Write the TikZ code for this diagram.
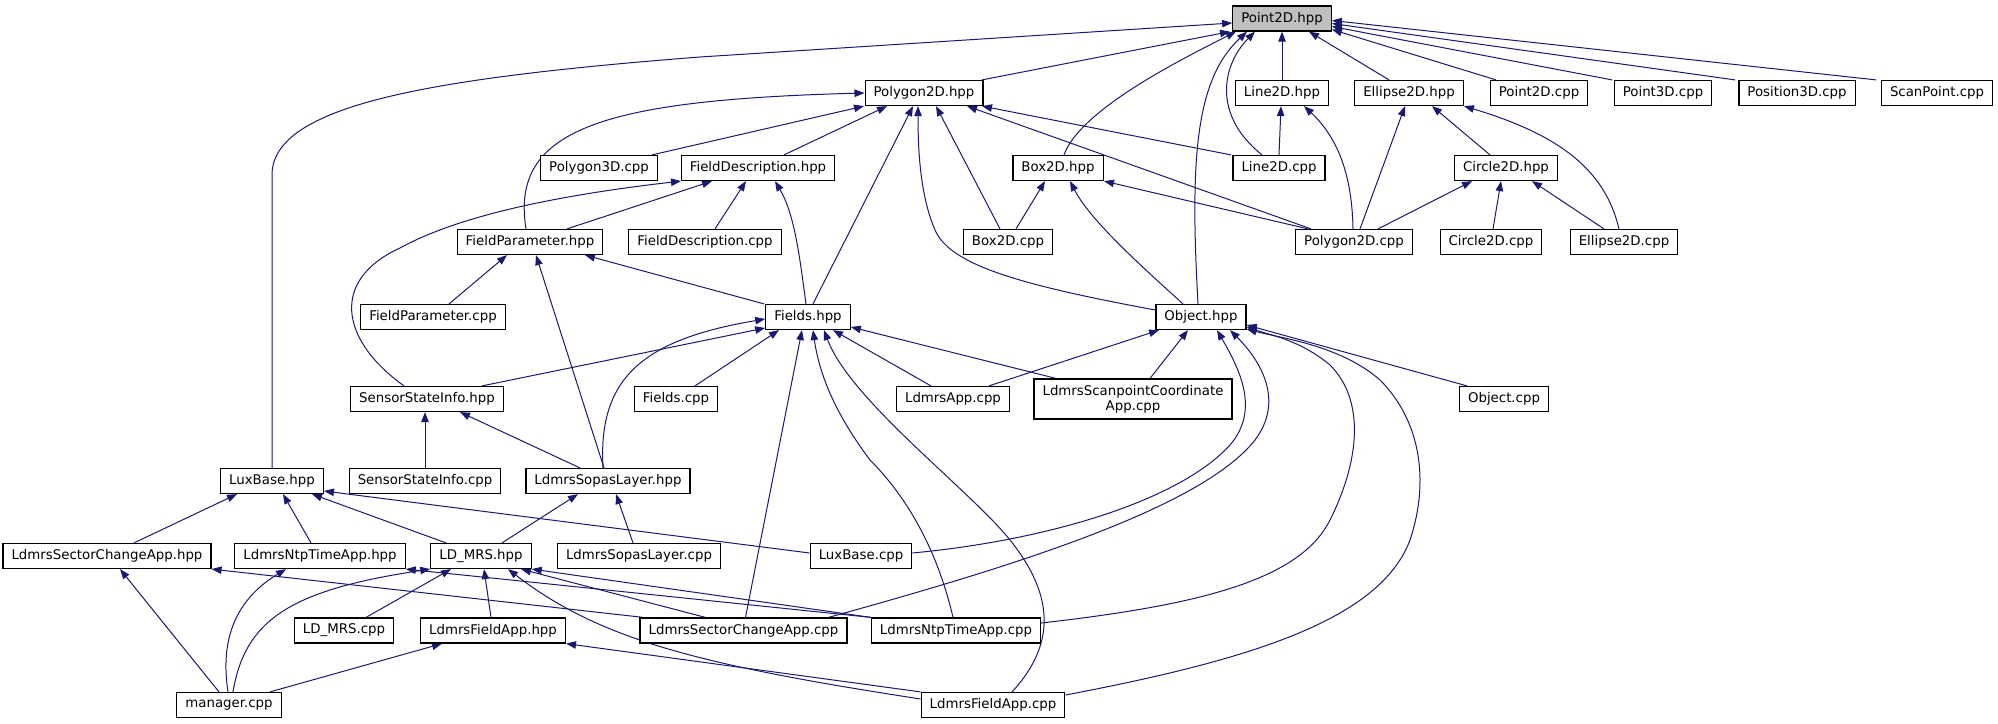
\documentclass[tikz,border=0pt]{standalone}
\usepackage{fontspec}
\setmainfont{DejaVu Sans}
\usetikzlibrary{arrows.meta}
\definecolor{mblue}{HTML}{191970}
\definecolor{rootgray}{HTML}{BFBFBF}
\newcommand{\pxu}{0.75pt}
\pgfdeclarelayer{bg}
\pgfsetlayers{bg,main}
\begin{document}
\begin{tikzpicture}[x=0.75pt,y=-0.75pt,
  box/.style={draw=black, line width=0.9pt, fill=white, inner xsep=6.4pt, inner ysep=0pt,
    minimum height=18.75pt, font=\fontsize{10}{11.5}\selectfont, align=center},
  root/.style={box, fill=rootgray},
  dep/.style={draw=mblue, line width=0.75pt, -{Triangle[length=7.5pt,width=5.6pt]}}]
\path[use as bounding box] (0,0) rectangle (1998,724);
% row 0
\node[root] (P2Dh) at (1282,18.5) {Point2D.hpp};
% row 1
\node[box] (Poly2Dh) at (924,93) {Polygon2D.hpp};
\node[box] (L2Dh) at (1282,93) {Line2D.hpp};
\node[box] (E2Dh) at (1409,93) {Ellipse2D.hpp};
\node[box] (P2Dc) at (1539,93) {Point2D.cpp};
\node[box] (P3Dc) at (1663,93) {Point3D.cpp};
\node[box] (Pos3Dc) at (1797,93) {Position3D.cpp};
\node[box] (SPc) at (1937,93) {ScanPoint.cpp};
% row 2
\node[box] (Poly3Dc) at (599,168) {Polygon3D.cpp};
\node[box] (FDh) at (758,168) {FieldDescription.hpp};
\node[box] (B2Dh) at (1058,168) {Box2D.hpp};
\node[box] (L2Dc) at (1279,168) {Line2D.cpp};
\node[box] (C2Dh) at (1506,168) {Circle2D.hpp};
% row 3
\node[box] (FPh) at (530,242) {FieldParameter.hpp};
\node[box] (FDc) at (705,242) {FieldDescription.cpp};
\node[box] (B2Dc) at (1008,242) {Box2D.cpp};
\node[box] (Poly2Dc) at (1354,242) {Polygon2D.cpp};
\node[box] (C2Dc) at (1491,242) {Circle2D.cpp};
\node[box] (E2Dc) at (1624,242) {Ellipse2D.cpp};
% row 4
\node[box] (FPc) at (433,317) {FieldParameter.cpp};
\node[box] (Fh) at (808,317) {Fields.hpp};
\node[box] (Oh) at (1201,317) {Object.hpp};
% row 5
\node[box] (SSIh) at (427,399) {SensorStateInfo.hpp};
\node[box] (Fc) at (676,399) {Fields.cpp};
\node[box] (LAc) at (953,399) {LdmrsApp.cpp};
\node[box, minimum height=30pt] (LSCc) at (1133,399) {LdmrsScanpointCoordinate\\App.cpp};
\node[box] (Oc) at (1504,399) {Object.cpp};
% row 6
\node[box] (LBh) at (272,481) {LuxBase.hpp};
\node[box] (SSIc) at (425,481) {SensorStateInfo.cpp};
\node[box] (LSLh) at (608,481) {LdmrsSopasLayer.hpp};
% row 7
\node[box] (LSCAh) at (107,556) {LdmrsSectorChangeApp.hpp};
\node[box] (LNTh) at (320,556) {LdmrsNtpTimeApp.hpp};
\node[box] (LDh) at (481,556) {LD\_MRS.hpp};
\node[box] (LSLc) at (639,556) {LdmrsSopasLayer.cpp};
\node[box] (LBc) at (861,556) {LuxBase.cpp};
% row 8
\node[box] (LDc) at (344,630.5) {LD\_MRS.cpp};
\node[box] (LFAh) at (493,630.5) {LdmrsFieldApp.hpp};
\node[box] (LSCAc) at (743.5,630.5) {LdmrsSectorChangeApp.cpp};
\node[box] (LNTc) at (956,630.5) {LdmrsNtpTimeApp.cpp};
% row 9
\node[box] (mgr) at (229,705) {manager.cpp};
\node[box] (LFAc) at (993,705) {LdmrsFieldApp.cpp};

\begin{pgfonlayer}{bg}
% to Point2D.hpp
\draw[dep] (LBh.north) -- (272,175) .. controls (272,105) and (430,78) .. (700,57) -- ([yshift=-4.5*\pxu]P2Dh.west);
\draw[dep] ([xshift=58*\pxu]Poly2Dh.north) -- ([xshift=-52*\pxu]P2Dh.south);
\draw[dep] ([xshift=6*\pxu]B2Dh.north) .. controls (1080,110) and (1180,60) .. ([xshift=-46*\pxu]P2Dh.south);
\draw[dep] ([xshift=-3*\pxu]Oh.north) .. controls (1190,160) and (1195,80) .. ([xshift=-35*\pxu]P2Dh.south);
\draw[dep] ([xshift=-17*\pxu]L2Dc.north) .. controls (1212,115) and (1222,65) .. ([xshift=-27*\pxu]P2Dh.south);
\draw[dep] (L2Dh.north) -- (P2Dh.south);
\draw[dep] ([xshift=-20*\pxu]E2Dh.north) -- ([xshift=27*\pxu]P2Dh.south);
\draw[dep] ([xshift=-43*\pxu]P2Dc.north) -- ([yshift=-11*\pxu]P2Dh.east);
\draw[dep] ([xshift=-51*\pxu]P3Dc.north) -- ([yshift=-8*\pxu]P2Dh.east);
\draw[dep] ([xshift=-62*\pxu]Pos3Dc.north) -- ([yshift=-5*\pxu]P2Dh.east);
\draw[dep] ([xshift=-61*\pxu]SPc.north) -- ([yshift=-2*\pxu]P2Dh.east);
% to Polygon2D.hpp
\draw[dep] ([xshift=-4*\pxu]FPh.north) .. controls (510,130) and (600,100) .. (Poly2Dh.west);
\draw[dep] ([xshift=53*\pxu]Poly3Dc.north) -- ([xshift=-60*\pxu]Poly2Dh.south);
\draw[dep] ([xshift=26*\pxu]FDh.north) -- ([xshift=-37*\pxu]Poly2Dh.south);
\draw[dep] ([xshift=5*\pxu]Fh.north) -- ([xshift=-11*\pxu]Poly2Dh.south);
\draw[dep] ([yshift=7*\pxu]Oh.west) .. controls (1020,285) and (950,265) .. (935,230) .. controls (920,195) and (918,150) .. ([xshift=-6*\pxu]Poly2Dh.south);
\draw[dep] ([xshift=-8*\pxu]B2Dc.north) -- ([xshift=12*\pxu]Poly2Dh.south);
\draw[dep] ([xshift=-43*\pxu]Poly2Dc.north) -- ([xshift=43*\pxu]Poly2Dh.south);
\draw[dep] ([xshift=-48*\pxu]L2Dc.north) -- ([xshift=58*\pxu]Poly2Dh.south);
% to FieldDescription.hpp
\draw[dep] ([xshift=37*\pxu]FPh.north) -- ([xshift=-46*\pxu]FDh.south);
\draw[dep] ([xshift=-23*\pxu]SSIh.north) .. controls (340,340) and (330,280) .. (400,248) .. controls (460,215) and (560,195) .. ([xshift=-77*\pxu]FDh.south);
\draw[dep] ([xshift=10*\pxu]FDc.north) -- ([xshift=-12*\pxu]FDh.south);
\draw[dep] ([xshift=-2*\pxu]Fh.north) .. controls (800,260) and (795,215) .. ([xshift=17*\pxu]FDh.south);
% to Line2D.hpp
\draw[dep] (L2Dc.north) -- ([xshift=-1*\pxu]L2Dh.south);
\draw[dep] ([xshift=-1*\pxu]Poly2Dc.north) .. controls (1352,170) and (1335,135) .. ([xshift=22*\pxu]L2Dh.south);
% to Box2D.hpp
\draw[dep] ([xshift=8*\pxu]B2Dc.north) -- ([xshift=-13*\pxu]B2Dh.south);
\draw[dep] ([xshift=-18*\pxu]Oh.north) .. controls (1140,265) and (1090,220) .. ([xshift=12*\pxu]B2Dh.south);
\draw[dep] ([xshift=-46*\pxu]Poly2Dc.north) -- ([xshift=46*\pxu]B2Dh.south);
% to Ellipse2D.hpp
\draw[dep] ([xshift=6*\pxu]Poly2Dc.north) -- ([xshift=-4*\pxu]E2Dh.south);
\draw[dep] ([xshift=-16*\pxu]C2Dh.north) -- ([xshift=23*\pxu]E2Dh.south);
\draw[dep] ([xshift=-5*\pxu]E2Dc.north) .. controls (1605,170) and (1560,135) .. ([xshift=55*\pxu]E2Dh.south);
% to Circle2D.hpp
\draw[dep] ([xshift=24*\pxu]Poly2Dc.north) -- ([xshift=-34*\pxu]C2Dh.south);
\draw[dep] ([xshift=2*\pxu]C2Dc.north) -- ([xshift=-5*\pxu]C2Dh.south);
\draw[dep] ([xshift=-20*\pxu]E2Dc.north) -- ([xshift=26*\pxu]C2Dh.south);
% to FieldParameter.hpp
\draw[dep] ([xshift=16*\pxu]FPc.north) -- ([xshift=-23*\pxu]FPh.south);
\draw[dep] ([xshift=-4*\pxu]LSLh.north) -- ([xshift=6*\pxu]FPh.south);
\draw[dep] ([xshift=-44*\pxu]Fh.north) -- ([xshift=55*\pxu]FPh.south);
% to Fields.hpp
\draw[dep] ([xshift=55*\pxu]SSIh.north) -- ([yshift=-11*\pxu]Fh.west);
\draw[dep] ([xshift=-5*\pxu]LSLh.north) .. controls (598,380) and (640,340) .. ([yshift=-2*\pxu]Fh.west);
\draw[dep] ([xshift=19*\pxu]Fc.north) -- ([xshift=-29*\pxu]Fh.south);
\draw[dep] ([xshift=2*\pxu]LSCAc.north) -- ([xshift=-6*\pxu]Fh.south);
\draw[dep] ([xshift=-3*\pxu]LNTc.north) .. controls (935,540) and (900,490) .. (870,460) .. controls (840,420) and (820,380) .. ([xshift=5*\pxu]Fh.south);
\draw[dep] ([xshift=19*\pxu]LFAc.north) .. controls (1060,640) and (1050,590) .. (1010,540) .. controls (970,490) and (850,400) .. ([xshift=16*\pxu]Fh.south);
\draw[dep] ([xshift=-22*\pxu]LAc.north) -- ([xshift=25*\pxu]Fh.south);
\draw[dep] ([xshift=-77*\pxu]LSCc.north) -- ([yshift=-10*\pxu]Fh.east);
% to Object.hpp
\draw[dep] ([xshift=36*\pxu]LAc.north) -- ([xshift=-42*\pxu]Oh.south);
\draw[dep] ([xshift=17*\pxu]LSCc.north) -- ([xshift=-13*\pxu]Oh.south);
\draw[dep] ([yshift=3*\pxu]LBc.east) .. controls (1050,540) and (1180,500) .. (1230,445) .. controls (1260,410) and (1240,370) .. ([xshift=16*\pxu]Oh.south);
\draw[dep] ([xshift=85*\pxu]LSCAc.north) .. controls (1000,570) and (1200,510) .. (1255,440) .. controls (1285,400) and (1260,360) .. ([xshift=29*\pxu]Oh.south);
\draw[dep] ([xshift=-37*\pxu]Oc.north) -- ([yshift=-8*\pxu]Oh.east);
\draw[dep] ([yshift=7.5*\pxu]LNTc.east) .. controls (1200,605) and (1300,580) .. (1330,520) .. controls (1360,460) and (1365,400) .. (1330,365) .. controls (1300,340) and (1270,335) .. ([yshift=-10*\pxu]Oh.east);
\draw[dep] ([yshift=10*\pxu]LFAc.east) .. controls (1250,660) and (1380,620) .. (1410,540) .. controls (1430,480) and (1420,420) .. (1380,380) .. controls (1340,345) and (1280,338) .. ([yshift=-12*\pxu]Oh.east);
% to SensorStateInfo.hpp
\draw[dep] (SSIc.north) -- ([xshift=-2*\pxu]SSIh.south);
\draw[dep] ([xshift=-28*\pxu]LSLh.north) -- ([xshift=33*\pxu]SSIh.south);
% to LdmrsSopasLayer.hpp
\draw[dep] ([xshift=21*\pxu]LDh.north) -- ([xshift=-30*\pxu]LSLh.south);
\draw[dep] ([xshift=-6*\pxu]LSLc.north) -- ([xshift=8*\pxu]LSLh.south);
% to LuxBase.hpp
\draw[dep] ([xshift=27*\pxu]LSCAh.north) -- ([xshift=-35*\pxu]LBh.south);
\draw[dep] ([xshift=-9*\pxu]LNTh.north) -- ([xshift=11*\pxu]LBh.south);
\draw[dep] ([xshift=-35*\pxu]LDh.north) -- ([xshift=40*\pxu]LBh.south);
\draw[dep] ([yshift=3*\pxu]LBc.west) -- ([yshift=-10*\pxu]LBh.east);
% to LdmrsSectorChangeApp.hpp
\draw[dep] ([xshift=-10*\pxu]mgr.north) -- ([xshift=13*\pxu]LSCAh.south);
\draw[dep] ([xshift=-100*\pxu]LSCAc.north) -- (LSCAh.south east);
% to LdmrsNtpTimeApp.hpp
\draw[dep] ([xshift=-1*\pxu]mgr.north) .. controls (220,640) and (235,600) .. ([xshift=-34*\pxu]LNTh.south);
\draw[dep] ([xshift=-85*\pxu]LNTc.north) -- (LNTh.south east);
% to LD_MRS.hpp
\draw[dep] ([xshift=4*\pxu]mgr.north) .. controls (245,620) and (290,590) .. (LDh.south west);
\draw[dep] ([xshift=22*\pxu]LDc.north) -- ([xshift=-30*\pxu]LDh.south);
\draw[dep] ([xshift=-2*\pxu]LFAh.north) -- ([xshift=3*\pxu]LDh.south);
\draw[dep] ([yshift=6*\pxu]LFAc.west) .. controls (700,665) and (600,640) .. ([xshift=27*\pxu]LDh.south);
\draw[dep] ([xshift=-38*\pxu]LSCAc.north) -- ([xshift=40*\pxu]LDh.south);
\draw[dep] ([xshift=-85*\pxu]LNTc.north) -- (LDh.south east);
% to LdmrsFieldApp.hpp
\draw[dep] ([xshift=41*\pxu]mgr.north) -- ([xshift=-51*\pxu]LFAh.south);
\draw[dep] (LFAc.north west) -- (LFAh.south east);
\end{pgfonlayer}
\end{tikzpicture}
\end{document}
